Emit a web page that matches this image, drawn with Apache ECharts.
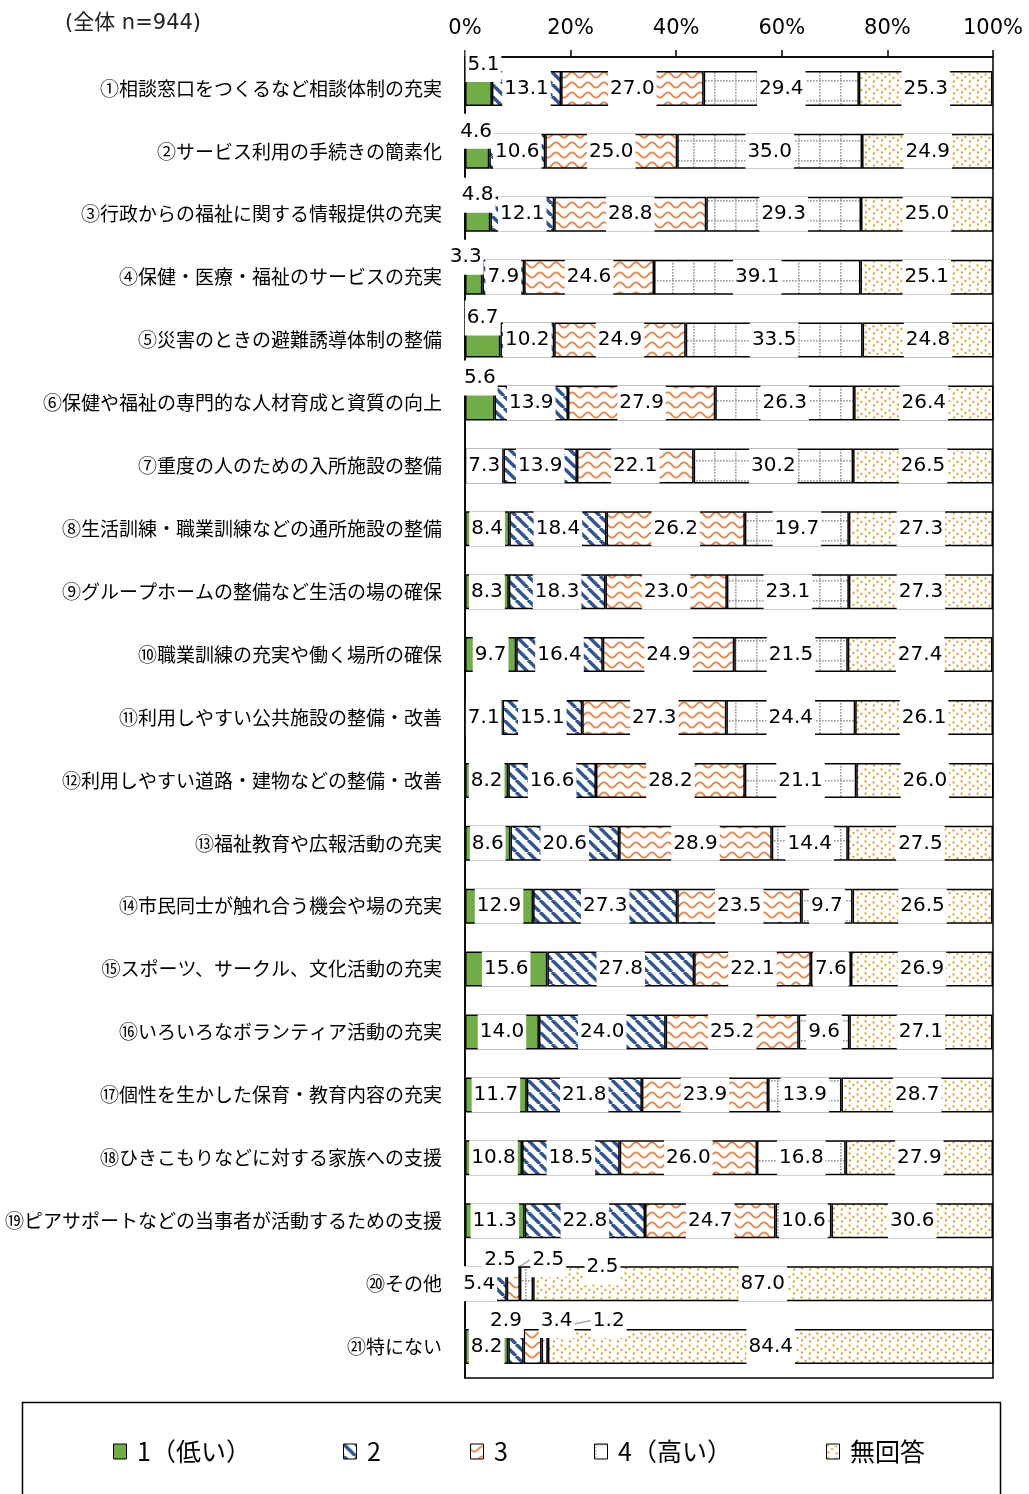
<!DOCTYPE html>
<html lang="ja">
<head>
<meta charset="utf-8">
<title>福祉施策の重要度</title>
<script src="https://cdn.jsdelivr.net/npm/echarts/dist/echarts.min.js"></script>
<style>
  html, body { margin: 0; padding: 0; background: #fff; }
  #chart { width: 1029px; height: 1494px; }
</style>
</head>
<body>
<div id="chart"></div>
<script>
// 施策ごとの評価（全体 n=944、単位 %）
const categories = [
  '①相談窓口をつくるなど相談体制の充実',
  '②サービス利用の手続きの簡素化',
  '③行政からの福祉に関する情報提供の充実',
  '④保健・医療・福祉のサービスの充実',
  '⑤災害のときの避難誘導体制の整備',
  '⑥保健や福祉の専門的な人材育成と資質の向上',
  '⑦重度の人のための入所施設の整備',
  '⑧生活訓練・職業訓練などの通所施設の整備',
  '⑨グループホームの整備など生活の場の確保',
  '⑩職業訓練の充実や働く場所の確保',
  '⑪利用しやすい公共施設の整備・改善',
  '⑫利用しやすい道路・建物などの整備・改善',
  '⑬福祉教育や広報活動の充実',
  '⑭市民同士が触れ合う機会や場の充実',
  '⑮スポーツ、サークル、文化活動の充実',
  '⑯いろいろなボランティア活動の充実',
  '⑰個性を生かした保育・教育内容の充実',
  '⑱ひきこもりなどに対する家族への支援',
  '⑲ピアサポートなどの当事者が活動するための支援',
  '⑳その他',
  '㉑特にない'
];
const seriesNames = ['1（低い）', '2', '3', '4（高い）', '無回答'];
const level1 = [5.1, 4.6, 4.8, 3.3, 6.7, 5.6, 7.3, 8.4, 8.3, 9.7, 7.1, 8.2, 8.6, 12.9, 15.6, 14.0, 11.7, 10.8, 11.3, 5.4, 8.2];
const level2 = [13.1, 10.6, 12.1, 7.9, 10.2, 13.9, 13.9, 18.4, 18.3, 16.4, 15.1, 16.6, 20.6, 27.3, 27.8, 24.0, 21.8, 18.5, 22.8, 2.5, 2.9];
const level3 = [27.0, 25.0, 28.8, 24.6, 24.9, 27.9, 22.1, 26.2, 23.0, 24.9, 27.3, 28.2, 28.9, 23.5, 22.1, 25.2, 23.9, 26.0, 24.7, 2.5, 3.4];
const level4 = [29.4, 35.0, 29.3, 39.1, 33.5, 26.3, 30.2, 19.7, 23.1, 21.5, 24.4, 21.1, 14.4, 9.7, 7.6, 9.6, 13.9, 16.8, 10.6, 2.5, 1.2];
const noAnswer = [25.3, 24.9, 25.0, 25.1, 24.8, 26.4, 26.5, 27.3, 27.3, 27.4, 26.1, 26.0, 27.5, 26.5, 26.9, 27.1, 28.7, 27.9, 30.6, 87.0, 84.4];
const xTicks = [0, 20, 40, 60, 80, 100];

// 細いセグメントのラベルはバーの上へずらす（series-dataIndex → [dx, dy]）
const labelShift = {
  '0-0': [5, -24], '0-1': [-1, -20], '0-2': [0, -19], '0-3': [-8, -20], '0-4': [0, -22], '0-5': [0, -25],
  '1-19': [0, -24], '2-19': [35, -24], '3-19': [76, -17],
  '1-20': [-10, -26], '2-20': [24, -26], '3-20': [64, -26]
};
const leaderLines = ['2-19', '3-19', '3-20'];

// ---- 塗りパターン ----
function tile(w, h, draw) {
  const c = document.createElement('canvas');
  c.width = w; c.height = h;
  const ctx = c.getContext('2d');
  ctx.fillStyle = '#fff';
  ctx.fillRect(0, 0, w, h);
  draw(ctx, w, h);
  return { image: c, repeat: 'repeat' };
}
const stripeFill = tile(12, 12, (ctx, w) => {
  ctx.strokeStyle = '#2F5597';
  ctx.lineWidth = 3.4;
  for (const x0 of [-w, 0, w]) {
    ctx.beginPath(); ctx.moveTo(x0, 0); ctx.lineTo(x0 + w, w); ctx.stroke();
  }
});
const waveFill = tile(16, 10, (ctx, w, h) => {
  ctx.strokeStyle = '#EC8444';
  ctx.lineWidth = 1.8;
  ctx.beginPath();
  for (let x = -1; x <= w + 1; x += 0.5) {
    const y = h / 2 + 2.6 * Math.sin(2 * Math.PI * x / w);
    if (x === -1) ctx.moveTo(x, y); else ctx.lineTo(x, y);
  }
  ctx.stroke();
});
const gridFill = tile(21, 20, (ctx, w, h) => {
  ctx.fillStyle = '#999';
  for (let x = 0; x < w; x += 3) ctx.fillRect(x, 0, 1.6, 1.6);
  for (let y = 0; y < h; y += 3) ctx.fillRect(0, y, 1.6, 1.6);
});
const dotFill = tile(16, 12, (ctx) => {
  ctx.fillStyle = '#DCA62E';
  [[1.5, 1.5], [9.5, 2.5], [5.5, 5], [13.5, 6], [2, 8.5], [10, 9.5]].forEach(([x, y]) => {
    ctx.beginPath(); ctx.arc(x, y, 1.15, 0, Math.PI * 2); ctx.fill();
  });
});
const fills = ['#70AD47', stripeFill, waveFill, gridFill, dotFill];
const values = [level1, level2, level3, level4, noAnswer];

const numFont = "'DejaVu Sans', 'Noto Sans CJK JP', sans-serif";
const jpFont = "'Noto Sans CJK JP', sans-serif";

const series = values.map((arr, si) => ({
  name: seriesNames[si],
  type: 'bar',
  stack: 'total',
  barWidth: 35,
  itemStyle: { color: fills[si], borderColor: '#000', borderWidth: 1.5 },
  label: {
    show: true,
    position: 'inside',
    color: '#000',
    fontFamily: numFont,
    fontSize: 20,
    lineHeight: 23,
    backgroundColor: '#fff',
    padding: [6, 2, 6, 2],
    formatter: p => Number(p.value).toFixed(1)
  },
  labelLine: { show: false, lineStyle: { color: '#a6a6a6', width: 1.5 } },
  labelLayout: p => {
    const s = labelShift[p.seriesIndex + '-' + p.dataIndex];
    return s ? { dx: s[0], dy: s[1] } : {};
  },
  data: arr.map((v, di) => leaderLines.includes(si + '-' + di)
    ? { value: v, labelLine: { show: true, lineStyle: { color: '#a6a6a6', width: 1.5 } } }
    : v)
}));

// 凡例は項目ごとに配置
const legendLeft = [113, 343, 470, 594, 826];
const legends = seriesNames.map((n, i) => ({
  data: [n],
  left: legendLeft[i],
  top: 1439,
  padding: 0,
  itemWidth: 13,
  itemHeight: 15,
  icon: 'rect',
  selectedMode: false,
  itemStyle: { borderColor: '#000', borderWidth: 1 },
  formatter: name => ' ' + name,
  textStyle: { fontFamily: jpFont, fontSize: 25, color: '#000' }
}));

const chart = echarts.init(document.getElementById('chart'), null, { renderer: 'canvas' });
chart.setOption({
  backgroundColor: '#fff',
  animation: false,
  title: {
    text: '(全体 n=944)',
    left: 60, top: 8,
    textStyle: { fontFamily: numFont, fontSize: 21, fontWeight: 'normal', color: '#222' }
  },
  legend: legends,
  grid: {
    left: 465, right: 36, top: 57, bottom: 116,
    show: true, borderColor: '#000', borderWidth: 1.5, backgroundColor: 'transparent'
  },
  xAxis: {
    type: 'value',
    position: 'top',
    min: xTicks[0], max: xTicks[xTicks.length - 1], interval: xTicks[1] - xTicks[0],
    axisLine: { show: true, lineStyle: { color: '#000', width: 1.5 } },
    axisTick: { show: true, length: 7, lineStyle: { color: '#000', width: 1.5 } },
    splitLine: { show: false },
    axisLabel: { formatter: '{value}%', fontFamily: numFont, fontSize: 21, color: '#000', margin: 18 }
  },
  yAxis: {
    type: 'category',
    inverse: true,
    data: categories,
    axisLine: { show: true, lineStyle: { color: '#000', width: 1.5 } },
    axisTick: { show: false },
    axisLabel: { fontFamily: jpFont, fontSize: 19, color: '#000', margin: 23 }
  },
  graphic: [{
    type: 'rect',
    shape: { x: 22.5, y: 1402.5, width: 978, height: 120 },
    style: { fill: 'none', stroke: '#000', lineWidth: 1.5 },
    silent: true
  }],
  series: series
});
</script>
</body>
</html>
